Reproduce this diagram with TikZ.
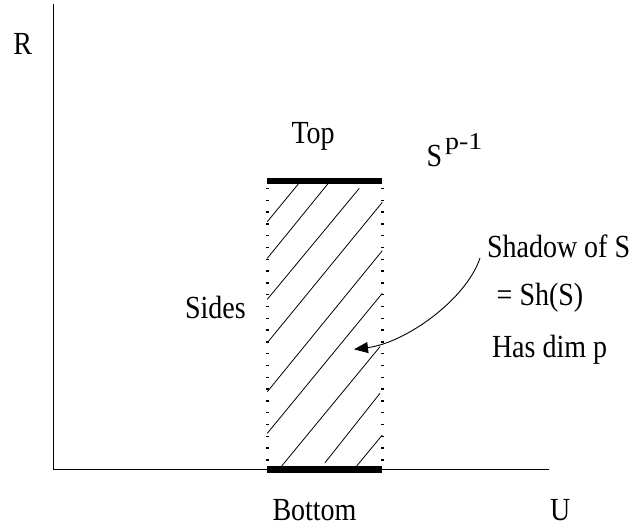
\documentclass[tikz,border=0pt]{standalone}
\usepackage{graphicx}
\usepackage{fontspec}
\setmainfont{Liberation Serif}
\usetikzlibrary{arrows.meta}
\newcommand{\tallt}[1]{\scalebox{1}[1.15]{#1}}
\newcommand{\shortt}[1]{\scalebox{1}[0.86]{#1}}
\tikzset{
  lbl/.style={inner sep=0pt, outer sep=0pt, anchor=base west, font=\fontsize{28}{32}\selectfont},
  axisline/.style={line width=1pt, black},
  bar/.style={line width=6.5pt, black},
  sideline/.style={line width=2.6pt, dash pattern=on 1.4pt off 10.4pt, black},
  hatch/.style={line width=0.8pt, black},
  callout/.style={line width=0.9pt, black, -{Triangle[length=14pt,width=11pt]}}
}
\begin{document}
\begin{tikzpicture}[x=1pt,y=-1pt]
\useasboundingbox (0,0) rectangle (636,527);
% axes
\coordinate (origin) at (53.3,469.5);
\coordinate (ytop) at (53.3,4);
\coordinate (xend) at (549,469.5);
\draw[axisline] (ytop) -- (origin) -- (xend);
% hatch lines
\draw[hatch] (267.3,221.7) -- (298.3,184);
\draw[hatch] (267.3,258.3) -- (327.7,184);
\draw[hatch] (267.3,299.3) -- (359.3,188.3);
\draw[hatch] (267.3,342.7) -- (382.3,202.3);
\draw[hatch] (267.3,391.7) -- (382.3,250.7);
\draw[hatch] (267.3,433.3) -- (382.3,293.3);
\draw[hatch] (281.7,466) -- (380,346.7);
\draw[hatch] (325,462.7) -- (380,393.3);
\draw[hatch] (356.7,466) -- (382.3,435);
% sides
\coordinate (tl) at (267.3,180.8);
\coordinate (tr) at (382.3,180.8);
\coordinate (bl) at (267.3,469.7);
\coordinate (br) at (382.3,469.7);
\draw[sideline] ([yshift=-7pt]tl) -- ([yshift=3pt]bl);
\draw[sideline] ([yshift=-7pt]tr) -- ([yshift=3pt]br);
% top and bottom bars
\draw[bar] (tl) -- (tr);
\draw[bar] (bl) -- (br);
% labels
\node[lbl] (R) at (13.3,54) {\tallt{R}};
\node[lbl] (top) at (291.5,143.5) {\tallt{Top}};
\node[lbl] (S) at (426.5,166) {\tallt{S}};
\node[lbl] (sup) at (445,149.3) {\shortt{p-1}};
\node[lbl] (sides) at (185,318.3) {\tallt{Sides}};
\node[lbl] (bottom) at (272.5,520) {\tallt{Bottom}};
\node[lbl] (U) at (550,520) {\tallt{U}};
\node[lbl] (shadow) at (487,257) {\tallt{Shadow of S}};
\node[lbl] (shs) at (496.7,305.5) {\tallt{= Sh(S)}};
\node[lbl] (dim) at (492,357) {\tallt{Has dim p}};
% callout arrow
\coordinate (cstart) at (480,258);
\coordinate (ctip) at (354,349.3);
\draw[callout] (cstart) .. controls (466,300) and (405,343) .. (ctip);
\end{tikzpicture}
\end{document}
